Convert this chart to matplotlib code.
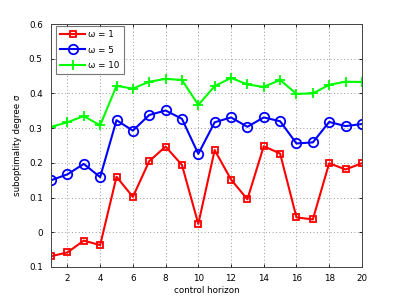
import matplotlib
matplotlib.use("Agg")
import matplotlib.pyplot as plt

# ---- data -----------------------------------------------------------------
horizon = list(range(1, 21))
sigma_w1 = [-0.069, -0.058, -0.024, -0.037, 0.160, 0.102, 0.205, 0.247, 0.194, 0.024,
            0.237, 0.152, 0.095, 0.248, 0.227, 0.043, 0.037, 0.199, 0.181, 0.199]
sigma_w5 = [0.150, 0.167, 0.197, 0.159, 0.323, 0.293, 0.338, 0.351, 0.327, 0.226,
            0.317, 0.331, 0.304, 0.331, 0.320, 0.256, 0.259, 0.318, 0.306, 0.312]
sigma_w10 = [0.304, 0.317, 0.335, 0.308, 0.422, 0.414, 0.434, 0.442, 0.439, 0.367,
             0.421, 0.445, 0.426, 0.419, 0.439, 0.399, 0.400, 0.425, 0.434, 0.433]
labels = ["\u03c9 = 1", "\u03c9 = 5", "\u03c9 = 10"]
xticks = [2, 4, 6, 8, 10, 12, 14, 16, 18, 20]
yticks = [-0.1, 0.0, 0.1, 0.2, 0.3, 0.4, 0.5, 0.6]
ytick_labels = ["0.1", "0", "0.1", "0.2", "0.3", "0.4", "0.5", "0.6"]

plt.rcParams["font.family"] = ["DejaVu Sans"]
fs = 6.3

fig = plt.figure(figsize=(3.99, 3.01), dpi=100)
ax = fig.add_axes([0.128, 0.113, 0.779, 0.807])

ax.plot(horizon, sigma_w1, color="#ff0000", lw=1.5, marker="s", ms=5,
        mfc="none", mew=1.3, label=labels[0])
ax.plot(horizon, sigma_w5, color="#0000ff", lw=1.5, marker="o", ms=6.8,
        mfc="none", mew=1.3, label=labels[1])
ax.plot(horizon, sigma_w10, color="#00ff00", lw=1.5, marker="+", ms=7.5,
        mew=1.3, label=labels[2])

ax.set_xlim(1, 20)
ax.set_ylim(-0.1, 0.6)
ax.set_xticks(xticks)
ax.set_yticks(yticks)
ax.set_yticklabels(ytick_labels)
ax.tick_params(labelsize=fs, length=2, width=0.6, direction="in",
               top=True, right=True)
ax.tick_params(axis="y", pad=6)
ax.tick_params(axis="x", pad=5)
ax.grid(True, ls=(0, (1, 2.5)), lw=0.7, color="#999999")
for s in ax.spines.values():
    s.set_linewidth(0.7)
    s.set_color("#444444")

ax.set_xlabel("control horizon", fontsize=fs, labelpad=2)
ax.set_ylabel("suboptimality degree \u03c3", fontsize=fs, labelpad=5)

leg = ax.legend(loc="upper left", fontsize=fs, frameon=True, fancybox=False,
                edgecolor="#555555", borderpad=0.5, labelspacing=0.7,
                handlelength=2.8, handletextpad=0.4, borderaxespad=0,
                bbox_to_anchor=(0.016, 0.992))
leg.get_frame().set_linewidth(0.8)

fig.savefig("out.png", dpi=100)
